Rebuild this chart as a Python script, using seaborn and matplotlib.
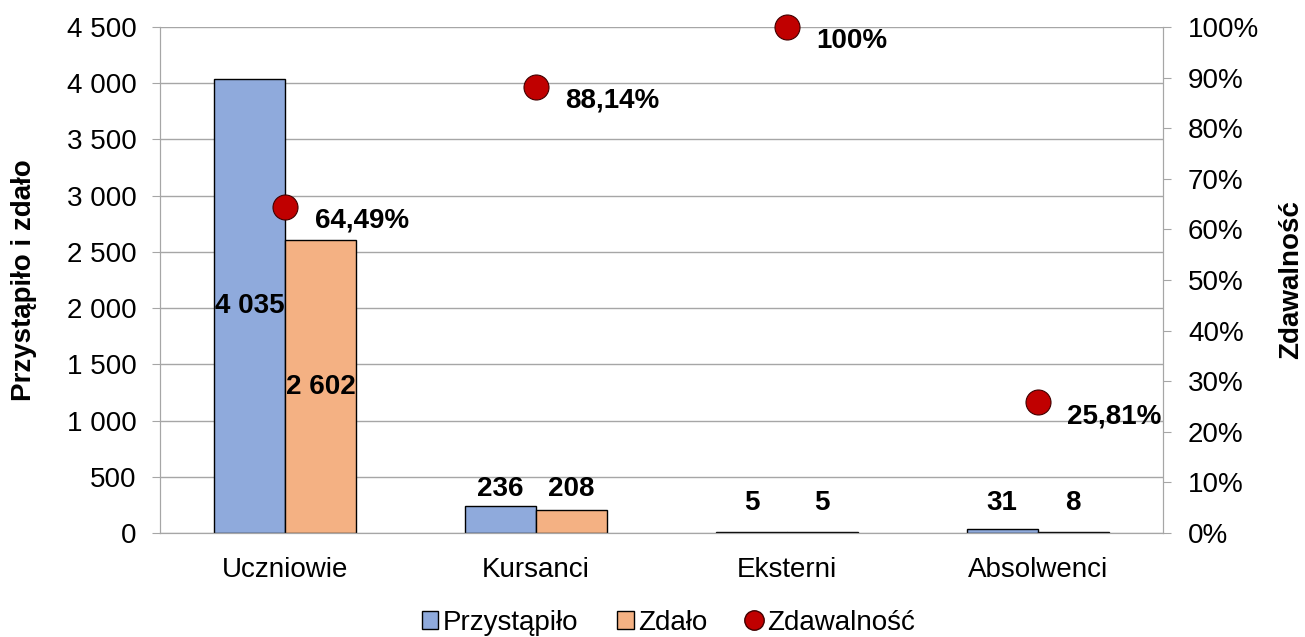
import numpy as np
import pandas as pd
import matplotlib
matplotlib.use('Agg')
import matplotlib.pyplot as plt
from matplotlib.patches import Patch
from matplotlib.lines import Line2D
from matplotlib.ticker import FuncFormatter, FixedLocator
import seaborn as sns

# dane
kategorie = ['Uczniowie', 'Kursanci', 'Eksterni', 'Absolwenci']
przystapilo = [4035, 236, 5, 31]
zdalo = [2602, 208, 5, 8]
zdawalnosc = [0.6449, 0.8814, 1.0, 0.2581]
etykiety_proc = ['64,49%', '88,14%', '100%', '25,81%']
serie = ['Przystąpiło', 'Zdało']

NIEBIESKI = '#8FAADC'
POMARANCZ = '#F4B183'
CZERWONY = '#C00000'
SZARY = '#A6A6A6'
FS = 20

sns.set_style('white')
plt.rcParams['font.family'] = ['Liberation Sans', 'DejaVu Sans']
plt.rcParams['text.color'] = 'black'
plt.rcParams['xtick.color'] = 'black'
plt.rcParams['ytick.color'] = 'black'
plt.rcParams['axes.labelcolor'] = 'black'

df = pd.DataFrame({
    'kategoria': kategorie * 2,
    'seria': [serie[0]] * len(kategorie) + [serie[1]] * len(kategorie),
    'liczba': przystapilo + zdalo,
})

fig = plt.figure(figsize=(13.05, 6.37), dpi=100)
ax = fig.add_axes([0.1226, 0.1633, 0.7686, 0.7943])

sns.barplot(data=df, x='kategoria', y='liczba', hue='seria', hue_order=serie,
            order=kategorie, palette=[NIEBIESKI, POMARANCZ], width=0.566,
            saturation=1, edgecolor='black', linewidth=1, legend=False, ax=ax)

ax.set_ylim(0, 4500)
ax.set_yticks(np.arange(0, 4501, 500))
ax.yaxis.set_major_formatter(FuncFormatter(lambda v, p: f'{int(v):,}'.replace(',', ' ')))
ax.grid(axis='y', color=SZARY, linewidth=1)
ax.set_axisbelow(True)
ax.set_xlabel('')
ax.set_ylabel('Przystąpiło i zdało', fontsize=FS, fontweight='bold')
ax.yaxis.set_label_coords(-0.1226, 0.5)
ax.tick_params(axis='y', labelsize=FS, length=6, color=SZARY, direction='out', pad=11)
ax.tick_params(axis='x', which='major', labelsize=FS, length=0, pad=17)
ax.xaxis.set_minor_locator(FixedLocator(np.arange(-0.5, len(kategorie), 1)))
ax.tick_params(axis='x', which='minor', length=6, color=SZARY, direction='out')
ax.spines['top'].set_visible(False)
for s in ['left', 'right', 'bottom']:
    ax.spines[s].set_color(SZARY)

# etykiety wartości słupków (małe słupki: etykiety nad parą, na wspólnej wysokości)
for cont, wartosci in zip(ax.containers, [przystapilo, zdalo]):
    for i, (bar, v) in enumerate(zip(cont, wartosci)):
        xc = bar.get_x() + bar.get_width() / 2
        tekst = f'{v:,}'.replace(',', ' ')
        if v > 1000:
            ax.text(xc, v / 2, tekst, ha='center', va='center',
                    fontsize=FS, fontweight='bold')
        else:
            para = max(przystapilo[i], zdalo[i])
            ax.text(xc, max(para + 40, 150), tekst, ha='center', va='bottom',
                    fontsize=FS, fontweight='bold')

ax2 = ax.twinx()
sns.pointplot(x=kategorie, y=zdawalnosc, order=kategorie, ax=ax2, linestyle='none',
              marker='o', color=CZERWONY, markersize=18, errorbar=None,
              markeredgecolor='#400000', markeredgewidth=0.8)
for ln in ax2.lines:
    ln.set_clip_on(False)
    ln.set_zorder(5)
ax2.set_ylim(0, 1)
ax2.set_yticks(np.arange(0, 1.01, 0.1))
ax2.yaxis.set_major_formatter(FuncFormatter(lambda v, p: f'{v * 100:.0f}%'))
ax2.set_ylabel('Zdawalność', fontsize=FS, fontweight='bold', rotation=90)
ax2.yaxis.set_label_coords(1.1146, 0.5)
ax2.tick_params(axis='y', labelsize=FS, length=6, color=SZARY, direction='out', pad=12)
ax2.spines['top'].set_visible(False)
for s in ['left', 'right', 'bottom']:
    ax2.spines[s].set_color(SZARY)
ax2.grid(False)

for i, (p, lab) in enumerate(zip(zdawalnosc, etykiety_proc)):
    ax2.annotate(lab, (i, p), xytext=(21, -10), textcoords='offset points',
                 ha='left', va='center', fontsize=FS, fontweight='bold')

uchwyty = [
    Patch(facecolor=NIEBIESKI, edgecolor='black', label=serie[0]),
    Patch(facecolor=POMARANCZ, edgecolor='black', label=serie[1]),
    Line2D([], [], linestyle='none', marker='o', markersize=14, color=CZERWONY,
           markeredgecolor='#400000', label='Zdawalność'),
]
fig.legend(handles=uchwyty, loc='lower center', bbox_to_anchor=(0.512, -0.037), ncol=3,
           frameon=False, fontsize=FS, handlelength=0.6, handleheight=0.6,
           handletextpad=0.15, columnspacing=1.4)

fig.savefig('out.png', dpi=100)
